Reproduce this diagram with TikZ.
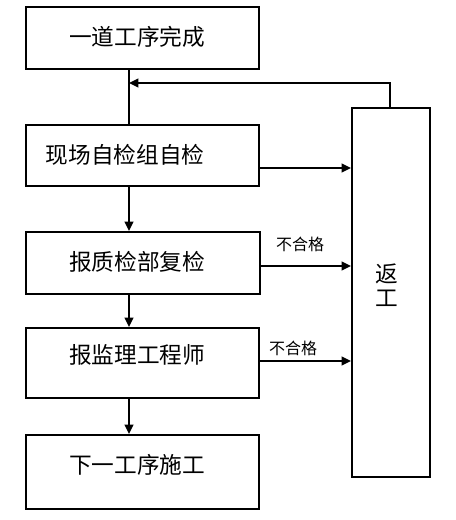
\documentclass[tikz,border=0pt]{standalone}
\usepackage{fontspec}
\setmainfont{Noto Sans CJK SC}
\usetikzlibrary{arrows.meta}
\begin{document}
\begin{tikzpicture}[x=0.75pt,y=-0.75pt,
  boxst/.style={draw,line width=1.4pt,inner sep=0pt},
  conn/.style={line width=1.4pt,-{Triangle[length=7pt,width=6.5pt]}},
  plain/.style={line width=1.4pt},
  mainlbl/.style={font=\fontsize{17}{20}\selectfont},
  smalllbl/.style={font=\fontsize{12}{14}\selectfont}]
\useasboundingbox (0,0) rectangle (455,520);
% boxes
\node[boxst,minimum width=175pt,minimum height=46.5pt] (b1) at (142.5,38) {};
\node[boxst,minimum width=175pt,minimum height=45.75pt] (b2) at (142.5,155.5) {};
\node[boxst,minimum width=175.5pt,minimum height=46.5pt] (b3) at (143,263) {};
\node[boxst,minimum width=175pt,minimum height=52.5pt] (b4) at (142.5,363) {};
\node[boxst,minimum width=175pt,minimum height=55.5pt] (b5) at (142.5,472) {};
\node[boxst,minimum width=58.5pt,minimum height=276.75pt] (r) at (391,292.5) {};
% texts
\node[mainlbl] (t1) at (137,37) {一道工序完成};
\node[mainlbl] (t2) at (125,155) {现场自检组自检};
\node[mainlbl] (t3) at (137,262) {报质检部复检};
\node[mainlbl] (t4) at (137,355) {报监理工程师};
\node[mainlbl] (t5) at (137,465) {下一工序施工};
\node[mainlbl,align=center,inner sep=0pt] (tr) at (387,285) {返\\[-2pt]工};
\node[smalllbl] (l1) at (300,244) {不合格};
\node[smalllbl] (l2) at (293,348) {不合格};
% connectors
\coordinate (jn) at (129,83);
\coordinate (rt) at (390,83);
\draw[plain] (b1.south -| jn) -- (b2.north -| jn);
\draw[conn] (r.north -| rt) -- (rt) -- (jn);
\draw[conn] (b2.east |- 0,168) -- (r.west |- 0,168);
\draw[conn] (b2.south -| jn) -- (b3.north -| jn);
\draw[conn] (b3.east |- 0,266) -- (r.west |- 0,266);
\draw[conn] (b3.south -| jn) -- (b4.north -| jn);
\draw[conn] (b4.east |- 0,361) -- (r.west |- 0,361);
\draw[conn] (b4.south -| jn) -- (b5.north -| jn);
\end{tikzpicture}
\end{document}
